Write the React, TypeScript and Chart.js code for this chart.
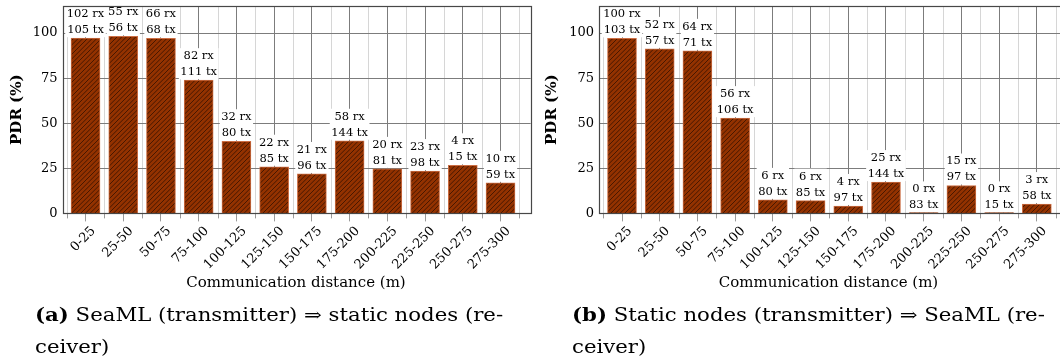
import React, { useEffect, useRef } from 'react';
import { Chart, registerables } from 'chart.js';

Chart.register(...registerables);

// Distance bins (m)
const distanceBins = ['0-25', '25-50', '50-75', '75-100', '100-125', '125-150', '150-175', '175-200', '200-225', '225-250', '250-275', '275-300'];

// (a) SeaML transmits, static nodes receive
const seamlToStaticRx = [102, 55, 66, 82, 32, 22, 21, 58, 20, 23, 4, 10];
const seamlToStaticTx = [105, 56, 68, 111, 80, 85, 96, 144, 81, 98, 15, 59];

// (b) Static nodes transmit, SeaML receives
const staticToSeamlRx = [100, 52, 64, 56, 6, 6, 4, 25, 0, 15, 0, 3];
const staticToSeamlTx = [103, 57, 71, 106, 80, 85, 97, 144, 83, 97, 15, 58];

const pdrTicks = [0, 25, 50, 75, 100];

const FONT = '"DejaVu Serif", serif';
const GRID_MAJOR = '#7c7c7c';
const GRID_MINOR = '#d6d6d6';
const TICK = '#9a9a9a';
const AXIS = '#474747';
const BAR_FILL = '#933200';
const BAR_EDGE = '#cc6e44';

const CANVAS_W = 545;
const CANVAS_H = 300;

// North-east hatching on a brown ground
function makeHatch(): CanvasPattern | string {
  const size = 14;
  const c = document.createElement('canvas');
  c.width = size;
  c.height = size;
  const g = c.getContext('2d');
  if (!g) return BAR_FILL;
  g.fillStyle = BAR_FILL;
  g.fillRect(0, 0, size, size);
  g.strokeStyle = '#140500';
  g.lineWidth = 0.6;
  const step = size / 3;
  for (let k = -2; k <= 8; k++) {
    const cst = k * step;
    g.beginPath();
    g.moveTo(cst + 2, -2);
    g.lineTo(cst - size - 2, size + 2);
    g.stroke();
  }
  return g.createPattern(c, 'repeat') || BAR_FILL;
}

type PanelCfg = {
  rx: number[];
  tx: number[];
  yAxisWidth: number;
  plotRight: number;
  xTitleX: number;
  yTitleX: number;
};

function makeDecorations(cfg: PanelCfg, pdr: number[]) {
  return {
    id: 'decorations',
    beforeDraw(chart: any) {
      const { ctx, chartArea, scales } = chart;
      const xs = scales.x;
      ctx.save();
      ctx.lineWidth = 1;
      for (let i = 0; i <= distanceBins.length; i++) {
        const v = i - 0.5;
        if (v < xs.min || v > xs.max) continue;
        const px = Math.round(xs.getPixelForValue(v)) + 0.5;
        ctx.strokeStyle = GRID_MINOR;
        ctx.beginPath();
        ctx.moveTo(px, chartArea.top);
        ctx.lineTo(px, chartArea.bottom);
        ctx.stroke();
        ctx.strokeStyle = TICK;
        ctx.beginPath();
        ctx.moveTo(px, chartArea.bottom);
        ctx.lineTo(px, chartArea.bottom + 5);
        ctx.stroke();
      }
      ctx.restore();
    },
    afterDatasetsDraw(chart: any) {
      const { ctx, scales } = chart;
      const xs = scales.x;
      const ys = scales.y;
      ctx.save();
      ctx.font = `11.5px ${FONT}`;
      ctx.textAlign = 'center';
      ctx.textBaseline = 'middle';
      pdr.forEach((v, i) => {
        const x = xs.getPixelForValue(i);
        const top = ys.getPixelForValue(v);
        const l1 = `${cfg.rx[i]} rx`;
        const l2 = `${cfg.tx[i]} tx`;
        const w = Math.max(ctx.measureText(l1).width, ctx.measureText(l2).width) + 3;
        const y1 = top - 24;
        const y2 = top - 8;
        ctx.fillStyle = '#fff';
        ctx.fillRect(x - w / 2, y1 - 8, w, y2 - y1 + 15);
        ctx.fillStyle = '#000';
        ctx.fillText(l1, x, y1);
        ctx.fillText(l2, x, y2);
      });
      ctx.restore();
    },
    afterDraw(chart: any) {
      const { ctx, chartArea } = chart;
      ctx.save();
      ctx.strokeStyle = AXIS;
      ctx.lineWidth = 1.2;
      ctx.strokeRect(
        Math.round(chartArea.left) + 0.5,
        Math.round(chartArea.top) + 0.5,
        Math.round(chartArea.right - chartArea.left),
        Math.round(chartArea.bottom - chartArea.top)
      );
      ctx.fillStyle = '#000';
      ctx.textAlign = 'center';
      ctx.textBaseline = 'middle';
      ctx.font = `15px ${FONT}`;
      ctx.fillText('Communication distance (m)', cfg.xTitleX, 283);
      ctx.translate(cfg.yTitleX, (chartArea.top + chartArea.bottom) / 2);
      ctx.rotate(-Math.PI / 2);
      ctx.font = `bold 15px ${FONT}`;
      ctx.fillText('PDR (%)', 0, 0);
      ctx.restore();
    },
  };
}

function buildChart(canvas: HTMLCanvasElement, cfg: PanelCfg) {
  const pdr = cfg.rx.map((r, i) => (r / cfg.tx[i]) * 100);
  const hatch = makeHatch();
  return new Chart(canvas, {
    type: 'bar',
    data: {
      datasets: [
        {
          data: pdr.map((y, i) => ({ x: i, y })),
          backgroundColor: hatch as any,
          borderColor: BAR_EDGE,
          borderWidth: 1,
          barThickness: 29,
          minBarLength: 1,
        },
      ],
    },
    options: {
      animation: false,
      responsive: false,
      devicePixelRatio: 1,
      layout: { padding: { left: 0, top: 6, right: CANVAS_W - cfg.plotRight, bottom: 0 } },
      plugins: { legend: { display: false }, tooltip: { enabled: false } },
      scales: {
        x: {
          type: 'linear',
          offset: false,
          min: -0.61,
          max: 11.8,
          afterBuildTicks: (s: any) => {
            s.ticks = distanceBins.map((_, i) => ({ value: i }));
          },
          afterFit: (s: any) => {
            s.height = CANVAS_H - 213.4;
            s.paddingLeft = 0;
            s.paddingRight = 0;
          },
          ticks: {
            autoSkip: false,
            minRotation: 45,
            maxRotation: 45,
            padding: 2,
            labelOffset: 8,
            color: '#000',
            font: { family: FONT, size: 13 },
            callback: (v: any) => distanceBins[v as number] ?? '',
          },
          grid: { offset: false, color: GRID_MAJOR, tickColor: TICK, tickLength: 8, lineWidth: 1 },
          border: { display: false },
        },
        y: {
          min: 0,
          max: 115,
          afterBuildTicks: (s: any) => {
            s.ticks = pdrTicks.map((v) => ({ value: v }));
          },
          afterFit: (s: any) => {
            s.width = cfg.yAxisWidth;
            s.paddingTop = 0;
            s.paddingBottom = 0;
          },
          ticks: { padding: 5, color: '#000', font: { family: FONT, size: 13 } },
          grid: { color: GRID_MAJOR, drawTicks: false, lineWidth: 1 },
          border: { display: false },
        },
      },
    },
    plugins: [makeDecorations(cfg, pdr)],
  } as any);
}

export default function App() {
  const leftRef = useRef<HTMLCanvasElement>(null);
  const rightRef = useRef<HTMLCanvasElement>(null);

  useEffect(() => {
    const charts: Chart[] = [];
    if (leftRef.current) {
      charts.push(
        buildChart(leftRef.current, {
          rx: seamlToStaticRx,
          tx: seamlToStaticTx,
          yAxisWidth: 62.5,
          plotRight: 530.7,
          xTitleX: 296,
          yTitleX: 16.7,
        })
      );
    }
    if (rightRef.current) {
      charts.push(
        buildChart(rightRef.current, {
          rx: staticToSeamlRx,
          tx: staticToSeamlTx,
          yAxisWidth: 69,
          plotRight: 537,
          xTitleX: 298.5,
          yTitleX: 22,
        })
      );
    }
    return () => charts.forEach((c) => c.destroy());
  }, []);

  const captionStyle: React.CSSProperties = {
    position: 'absolute',
    top: 299,
    font: `18px ${FONT}`,
    lineHeight: '32px',
    whiteSpace: 'nowrap',
    color: '#000',
    transform: 'scaleX(1.18)',
    transformOrigin: '0 0',
  };

  return (
    <div style={{ position: 'absolute', left: 0, top: 0, width: 1060, height: 360, overflow: 'hidden', background: '#fff' }}>
      <canvas ref={leftRef} width={CANVAS_W} height={CANVAS_H} style={{ position: 'absolute', left: 0, top: 0, display: 'block' }} />
      <canvas ref={rightRef} width={CANVAS_W} height={CANVAS_H} style={{ position: 'absolute', left: 530, top: 0, display: 'block' }} />
      <div style={{ ...captionStyle, left: 35 }}>
        <b>(a)</b> SeaML (transmitter) ⇒ static nodes (re-
        <br />
        ceiver)
      </div>
      <div style={{ ...captionStyle, left: 572 }}>
        <b>(b)</b> Static nodes (transmitter) ⇒ SeaML (re-
        <br />
        ceiver)
      </div>
    </div>
  );
}
